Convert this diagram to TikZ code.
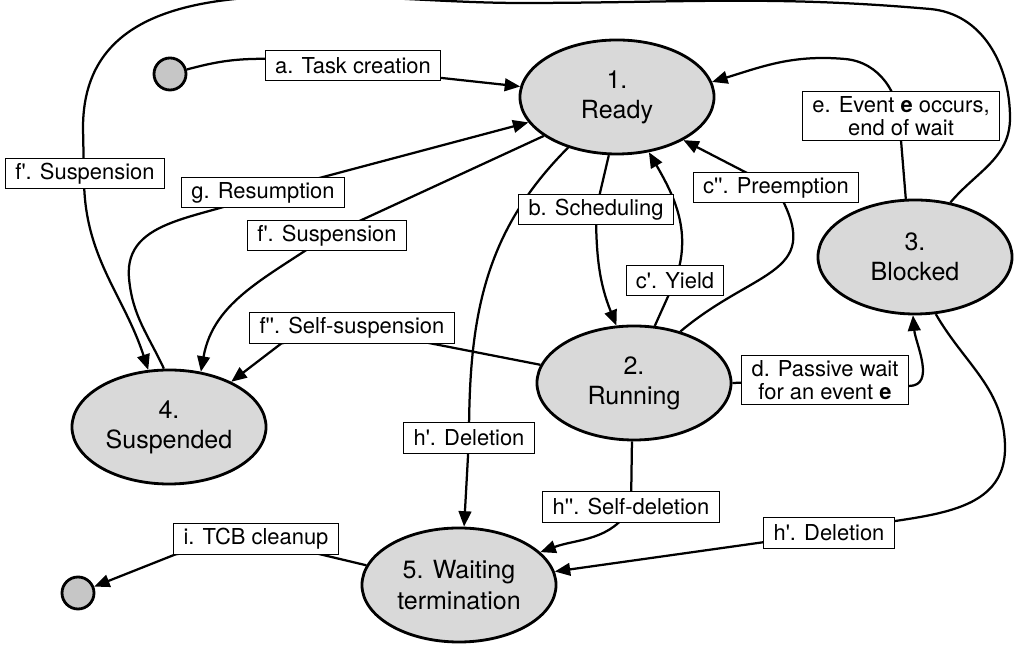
\documentclass[tikz,border=0pt]{standalone}
\usepackage{fontspec}
\setmainfont{TeX Gyre Heros}
\usetikzlibrary{arrows.meta,backgrounds,shapes.geometric}
\newcommand{\tq}{\textquotesingle}
\begin{document}
\begin{tikzpicture}[x=0.025cm, y=0.025cm,
  state/.style={draw, ellipse, line width=2pt, fill=gray!30, minimum width=4.85cm, minimum height=2.85cm, inner sep=0pt, align=center, font=\fontsize{17.8}{21.5}\selectfont},
  lbl/.style={draw, rectangle, line width=0.7pt, fill=white, inner xsep=7pt, inner ysep=3pt, minimum height=0.75cm, align=center, font=\fontsize{15.6}{16.8}\selectfont},
  dot/.style={draw, circle, line width=2pt, fill=gray!45, minimum size=0.8cm, inner sep=0pt},
  conn/.style={line width=1.6pt},
  arr/.style={line width=1.6pt, -{Triangle[length=11pt,width=9pt]}}]

\useasboundingbox (0,0) rectangle (1014,648);

% task states
\node[state] (ready)   at (617,551) {1.\\Ready};
\node[state] (running) at (634,265) {2.\\Running};
\node[state] (blocked) at (915,391) {3.\\Blocked};
\node[state] (susp)    at (169,221) {4.\\Suspended};
\node[state] (wait)    at (459,63)  {5. Waiting\\termination};

% creation and end points
\node[dot] (start) at (170,574) {};
\node[dot] (stop)  at (78,55) {};

% transition labels
\node[lbl] (la)   at (353,582) {a. Task creation};
\node[lbl] (lb)   at (596,438) {b. Scheduling};
\node[lbl] (lcy)  at (675,367) {c\tq. Yield};
\node[lbl] (lcp)  at (776,460) {c\tq\tq. Preemption};
\node[lbl] (ld)   at (825,268) {d. Passive wait\\for an event \textbf{e}};
\node[lbl] (le)   at (901,532) {e. Event \textbf{e} occurs,\\end of wait};
\node[lbl] (lfo)  at (85,474)  {f\tq. Suspension};
\node[lbl] (lfr)  at (327,412) {f\tq. Suspension};
\node[lbl] (lfs)  at (352,320) {f\tq\tq. Self-suspension};
\node[lbl] (lg)   at (263,455) {g. Resumption};
\node[lbl] (lhr)  at (469,210) {h\tq. Deletion};
\node[lbl] (lhb)  at (829,115) {h\tq. Deletion};
\node[lbl] (lhs)  at (631,141) {h\tq\tq. Self-deletion};
\node[lbl] (li)   at (256,109) {i. TCB cleanup};

\begin{pgfonlayer}{background}
% a, b, c
\draw[arr] (start) to[out=15,in=180] ([yshift=0.18cm]la.west) -- (ready);
\draw[arr] (ready.262) -- (lb.center) to[out=-90,in=112] (running.107);
\draw[arr] (running.70) -- (lcy.center) to[out=70,in=-60] (ready.300);
\draw[arr] (running.48) to[out=40,in=-60,looseness=1.5] (lcp.center) -- (ready.327);

% d, e
\draw[arr] (running.east) -- (ld.center) -- ([yshift=-0.15cm]ld.east) to[out=0,in=-85] (blocked.268);
\draw[arr] (blocked.99) -- (900,520) to[out=90,in=-5] (845,589) to[out=175,in=17] (ready.9);

% f', f'', g
\draw[arr] (blocked.57) to[out=50,in=-90] (1010,530) to[out=90,in=-5] (930,639)
  to[out=175,in=0] (520,645) to[out=180,in=90] (83,520) -- (84,470)
  to[out=-90,in=108] (susp.110);
\draw[arr] (ready.208) -- (lfr.center) to[out=215,in=80] (susp.60);
\draw[arr] (running.169) -- (lfs.center) -- ([xshift=0.8cm]lfs.south west) -- (susp.36);
\draw[arr] (susp.95) to[out=115,in=-85] (129,370) to[out=95,in=205] (lg.center) -- (ready.196);

% h', h'', i
\draw[arr] (ready.226) to[out=-135,in=90] (lhr.center) -- (wait.85);
\draw[arr] (blocked.290) to[out=-60,in=90] (1005,200) to[out=-90,in=15] (lhb.center) -- (wait);
\draw[arr] (running.268) -- (lhs.center) to[out=-120,in=20] (wait.22);
\draw[arr] (wait.168) -- (li.center) -- ([xshift=0.05cm]li.south west) -- (stop);
\end{pgfonlayer}

\end{tikzpicture}
\end{document}
